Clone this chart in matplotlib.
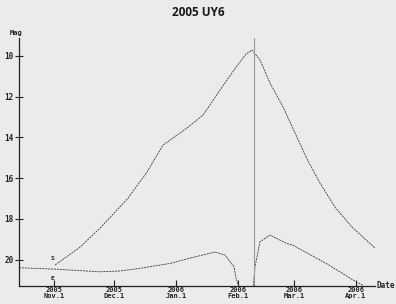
import matplotlib
matplotlib.use('Agg')
import matplotlib.pyplot as plt
import pandas as pd

# upper curve: total magnitude
mag_dates = ["2005-11-01 12:00", "2005-11-14", "2005-11-24", "2005-12-08", "2005-12-17 12:00",
             "2005-12-25 12:00", "2006-01-06 12:00", "2006-01-14 12:00", "2006-01-23", "2006-01-31",
             "2006-02-05", "2006-02-08", "2006-02-12", "2006-02-17", "2006-02-23 12:00",
             "2006-03-02", "2006-03-08", "2006-03-14", "2006-03-21 12:00", "2006-03-30",
             "2006-04-10 12:00"]
mag_vals = [20.26, 19.38, 18.45, 16.98, 15.70,
            14.38, 13.54, 12.91, 11.68, 10.56,
            9.92, 9.72, 10.21, 11.34, 12.51,
            13.89, 15.16, 16.24, 17.42, 18.40,
            19.43]

# lower curve (two pieces, gap around the vertical line)
low_dates = ["2005-10-14 12:00", "2005-11-01 12:00", "2005-11-24", "2005-12-04", "2005-12-14",
             "2005-12-29", "2006-01-08", "2006-01-20 12:00", "2006-01-25 12:00", "2006-01-30",
             "2006-01-31", "2006-02-01 08:00",
             "2006-02-08 16:00", "2006-02-09 12:00", "2006-02-12", "2006-02-17", "2006-02-25 08:00",
             "2006-02-28 08:00", "2006-03-18 12:00", "2006-04-01", "2006-04-04 08:00"]
low_vals = [20.39, 20.46, 20.59, 20.55, 20.42,
            20.18, 19.92, 19.62, 19.77, 20.34,
            20.90, 21.29,
            21.29, 20.34, 19.12, 18.79, 19.20,
            19.28, 20.26, 21.08, 21.24]
low_break = 12

vline_date = "2006-02-09"

xtick_dates = ["2005-11-01", "2005-12-01", "2006-01-01", "2006-02-01", "2006-03-01", "2006-04-01"]
xtick_labels = ["2005\nNov.1", "2005\nDec.1", "2006\nJan.1", "2006\nFeb.1", "2006\nMar.1", "2006\nApr.1"]
ytick_vals = [10, 12, 14, 16, 18, 20]

bg = '#ebebeb'
mono = 'DejaVu Sans Mono'

fig = plt.figure(figsize=(3.96, 3.04), dpi=100, facecolor=bg)
ax = fig.add_axes([0.048, 0.0576, 0.899, 0.8174])
ax.set_facecolor(bg)

md = pd.to_datetime(mag_dates, format='mixed')
ld = pd.to_datetime(low_dates, format='mixed')

ax.plot(md, mag_vals, color='#3c3c3c', lw=0.6, ls=(0, (2.5, 1)), clip_on=False)
ax.plot(ld[:low_break], low_vals[:low_break], color='#3c3c3c', lw=0.6, ls=(0, (2.5, 1)))
ax.plot(ld[low_break:], low_vals[low_break:], color='#3c3c3c', lw=0.6, ls=(0, (2.5, 1)))
ax.axvline(pd.Timestamp(vline_date), color='#9a9a9a', lw=0.8)

ax.set_xlim(pd.Timestamp("2005-10-14 12:00"), pd.Timestamp("2006-04-10 12:00"))
ax.set_ylim(21.31, 9.13)

for s in ['top', 'right']:
    ax.spines[s].set_visible(False)
for s in ['left', 'bottom']:
    ax.spines[s].set_color('#222222')
    ax.spines[s].set_linewidth(0.9)

ax.set_xticks(pd.to_datetime(xtick_dates))
ax.set_xticklabels(xtick_labels, fontsize=5, family=mono, fontweight='bold',
                   color='#222222', linespacing=0.95)
ax.tick_params(axis='x', direction='in', length=4, width=0.8, pad=0.5, color='#222222')
ax.set_yticks(ytick_vals)
ax.set_yticklabels([str(v) for v in ytick_vals], fontsize=5.5, family=mono,
                   fontweight='bold', color='#222222')
ax.tick_params(axis='y', direction='inout', length=6, width=0.8, pad=1, color='#222222')

fig.text(198 / 396, 1 - 13 / 304, "2005 UY6", ha='center', va='center', fontsize=8.5,
         fontweight='bold', family='Open Sans', color='#1a1a1a')
fig.text(16 / 396, 1 - 33 / 304, "Mag", ha='center', va='center', fontsize=5,
         fontweight='bold', family=mono, color='#222222')
fig.text(386 / 396, 1 - 285 / 304, "Date", ha='center', va='center', fontsize=5.5,
         fontweight='bold', family=mono, color='#222222')
fig.text(52 / 396, 1 - 258 / 304, "S", ha='center', va='center', fontsize=4.5,
         fontweight='bold', family=mono, color='#222222')
fig.text(52 / 396, 1 - 278 / 304, "E", ha='center', va='center', fontsize=4.5,
         fontweight='bold', family=mono, color='#222222')

fig.savefig('out.png', dpi=100, facecolor=bg)
